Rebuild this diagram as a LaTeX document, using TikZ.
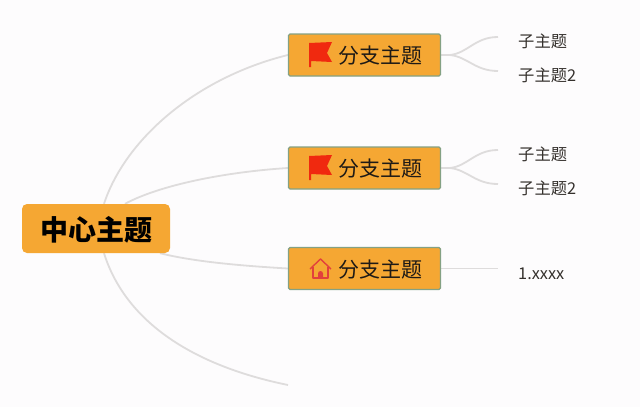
\documentclass[tikz,border=0pt]{standalone}
\usepackage{fontspec}
\setmainfont{Noto Sans CJK SC}
\usetikzlibrary{backgrounds}
\definecolor{mapbg}{HTML}{FDFCFD}
\definecolor{maporange}{HTML}{F5A733}
\definecolor{mapedge}{HTML}{84A184}
\definecolor{mapline}{HTML}{DEDCDC}
\definecolor{mapink}{HTML}{1E1A16}
\definecolor{flagred}{HTML}{F0290F}
\definecolor{housered}{HTML}{E2403C}
\tikzset{
	centernode/.style={fill=maporange,rounded corners=5pt,minimum width=148pt,minimum height=49pt,inner sep=0pt,text height=26pt,text depth=2.8pt,font=\fontsize{28}{30}\selectfont\bfseries,text=black},
	branchnode/.style={fill=maporange,draw=mapedge,line width=1.2pt,rounded corners=1.5pt,minimum height=42pt,inner ysep=0pt,inner xsep=18pt,text width=116pt,text height=19pt,text depth=2pt,align=right,font=\fontsize{21}{24}\selectfont,text=mapink},
	leafnode/.style={anchor=west,inner xsep=20pt,inner ysep=0pt,text height=12pt,text depth=3pt,font=\fontsize{16.3}{18}\selectfont,text=mapink!90},
	link/.style={draw=mapline,line width=1.8pt},
	flagicon/.pic={
		\fill[flagred] (0,1)--(23,0)--(18,11)--(23,20)--(2,19)--(2,25)--(0,25)--cycle;
	},
	houseicon/.pic={
		\draw[housered,line width=1.4pt,line join=round] (0,10)--(10.5,0)--(21,10);
		\draw[housered,line width=1.4pt,line join=round] (3,8)--(3,19)--(18,19)--(18,8);
		\fill[housered] (8,19)--(8,14.5) arc[start angle=180,end angle=360,radius=2.5]--(13,19)--cycle;
	}
}
\begin{document}
\begin{tikzpicture}[x=1pt,y=-1pt]
	\useasboundingbox (0,0) rectangle (640,407);
	\node[centernode] (root) at (96,228.5) {中心主题};
	\node[branchnode] (branch1) at (364.5,55) {分支主题};
	\node[branchnode] (branch2) at (364.5,168) {分支主题};
	\node[branchnode] (branch3) at (364.5,268.5) {分支主题};
	\node[leafnode] (leaf1) at (498,43) {子主题};
	\node[leafnode] (leaf2) at (498,77) {子主题2};
	\node[leafnode] (leaf3) at (498,156) {子主题};
	\node[leafnode] (leaf4) at (498,190) {子主题2};
	\node[leafnode] (leaf5) at (498,274.5) {1.xxxx};
	\coordinate (free1) at (288,385);
	\pic at (309,42) {flagicon};
	\pic at (309,155) {flagicon};
	\pic at (310,259) {houseicon};
	\begin{scope}[on background layer]
		\fill[mapbg] (0,0) rectangle (640,407);
		\draw[link] ([xshift=8pt]root.north) .. controls (125,140) and (195,78) .. (branch1.west);
		\draw[link] ([xshift=29pt]root.north) .. controls (160,185) and (225,172) .. (branch2.west);
		\draw[link] ([xshift=64pt]root.south) .. controls (195,262) and (245,266) .. (branch3.west);
		\draw[link] ([xshift=8pt]root.south) .. controls (125,320) and (190,365) .. (free1);
		\draw[link] (branch1.east) -- (450,55) .. controls (468,53) and (475,37) .. ([yshift=6pt]leaf1.west);
		\draw[link] (branch1.east) -- (450,55) .. controls (468,57) and (475,71) .. ([yshift=6pt]leaf2.west);
		\draw[link] (branch2.east) -- (450,168) .. controls (468,166) and (475,150) .. ([yshift=6pt]leaf3.west);
		\draw[link] (branch2.east) -- (450,168) .. controls (468,170) and (475,184) .. ([yshift=6pt]leaf4.west);
		\draw[link] (branch3.east) -- ([yshift=6pt]leaf5.west);
	\end{scope}
\end{tikzpicture}
\end{document}
